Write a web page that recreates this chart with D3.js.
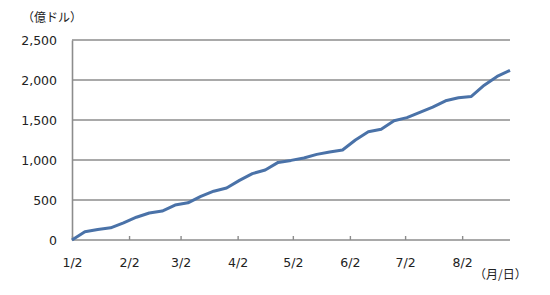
<!DOCTYPE html>
<html>
<head>
<meta charset="utf-8">
<script src="https://cdn.jsdelivr.net/npm/d3@7"></script>
<style>
  body { margin: 0; background: #fff; }
  svg text { fill: #222; }
</style>
</head>
<body>
<div id="chart"></div>
<script>
// Weekly cumulative values (億ドル), Jan 2 through Aug 28
const startDate = "2015-01-02";
const values = [
  0, 104, 132, 152, 215, 285, 337, 362, 437, 465,
  545, 610, 650, 745, 830, 875, 970, 995, 1025, 1070,
  1100, 1125, 1250, 1352, 1385, 1490, 1530, 1595, 1660, 1740,
  1778, 1795, 1935, 2045, 2120
];
const yTicks = [0, 500, 1000, 1500, 2000, 2500];
const xTickDates = ["2015-01-02", "2015-02-02", "2015-03-02", "2015-04-02",
  "2015-05-02", "2015-06-02", "2015-07-02", "2015-08-02"];

const width = 550;
const height = 295;
const margin = { top: 40, right: 40, bottom: 55, left: 72 };

const parse = d3.timeParse("%Y-%m-%d");
const t0 = parse(startDate);
const data = values.map((v, i) => ({ date: d3.timeDay.offset(t0, i * 7), value: v }));

const svg = d3.select("#chart").append("svg")
  .attr("width", width)
  .attr("height", height);

const x = d3.scaleTime()
  .domain(d3.extent(data, d => d.date))
  .range([margin.left, width - margin.right]);

const y = d3.scaleLinear()
  .domain([0, 2500])
  .range([height - margin.bottom, margin.top]);

const grey = "#8c8c8c";

// Gridlines
svg.append("g")
  .selectAll("line")
  .data(yTicks.filter(d => d > 0))
  .enter().append("line")
  .attr("x1", margin.left)
  .attr("x2", width - margin.right)
  .attr("y1", d => y(d))
  .attr("y2", d => y(d))
  .attr("stroke", grey)
  .attr("stroke-width", 1.6);

// Y axis
svg.append("g")
  .attr("transform", `translate(${margin.left},0)`)
  .call(d3.axisLeft(y).tickValues(yTicks).tickSize(0).tickPadding(15).tickFormat(d3.format(",")))
  .call(g => g.select(".domain").attr("stroke", grey).attr("stroke-width", 1.6))
  .call(g => g.selectAll("text")
    .attr("font-family", "DejaVu Sans, Verdana, sans-serif")
    .attr("font-size", 12.5)
    .attr("fill", "#222"));

// X axis (ticks point up)
svg.append("g")
  .attr("transform", `translate(0,${y(0)})`)
  .call(d3.axisBottom(x).tickValues(xTickDates.map(parse)).tickSize(-4).tickPadding(18)
    .tickFormat(d3.timeFormat("%-m/%-d")))
  .call(g => g.select(".domain").attr("stroke", grey).attr("stroke-width", 1.6)
    .attr("d", `M${margin.left},0H${width - margin.right}`))
  .call(g => g.selectAll(".tick line").attr("stroke", grey).attr("stroke-width", 1.4))
  .call(g => g.selectAll("text")
    .attr("font-family", "DejaVu Sans, Verdana, sans-serif")
    .attr("font-size", 12.5)
    .attr("fill", "#222"));

// Line
const line = d3.line()
  .x(d => x(d.date))
  .y(d => y(d.value));

svg.append("path")
  .datum(data)
  .attr("d", line)
  .attr("fill", "none")
  .attr("stroke", "#4a72a8")
  .attr("stroke-width", 3)
  .attr("stroke-linejoin", "round");

// Unit labels
svg.append("text")
  .attr("x", 22)
  .attr("y", 22)
  .attr("font-family", "Noto Sans CJK JP, sans-serif")
  .attr("font-size", 12)
  .text("（億ドル）");

svg.append("text")
  .attr("x", 474)
  .attr("y", 279)
  .attr("font-family", "Noto Sans CJK JP, sans-serif")
  .attr("font-size", 12)
  .text("（月/日）");
</script>
</body>
</html>
